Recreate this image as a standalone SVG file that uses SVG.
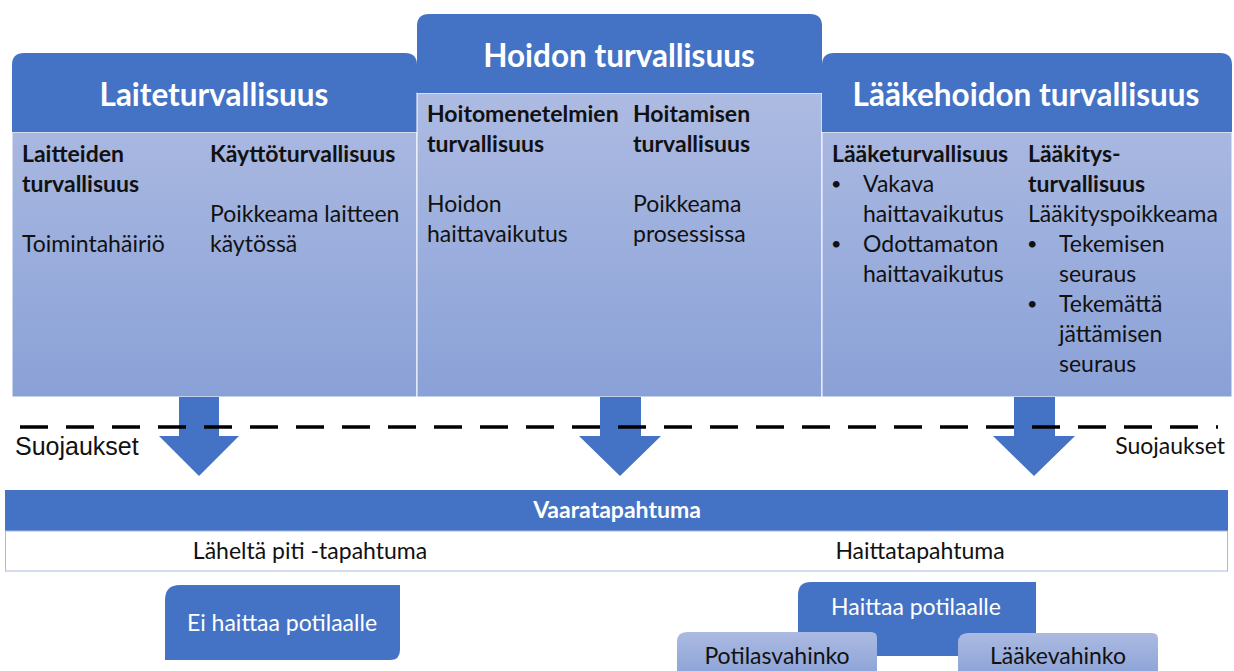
<svg xmlns="http://www.w3.org/2000/svg" width="1234" height="671" viewBox="0 0 1234 671">
<defs>
<linearGradient id="bodyGrad" gradientUnits="userSpaceOnUse" x1="0" y1="93" x2="0" y2="397">
<stop offset="0" stop-color="#ADBBE2"/>
<stop offset="1" stop-color="#8AA1D7"/>
</linearGradient>
<linearGradient id="smallGrad" x1="0" y1="0" x2="0" y2="1">
<stop offset="0" stop-color="#ABBAE1"/>
<stop offset="1" stop-color="#8FA5D8"/>
</linearGradient>
<style>
.hdr{fill:#4472C4}
.body{fill:url(#bodyGrad);stroke:#ffffff;stroke-width:1}
.arrow{fill:#4472C4}
.t{font-family:Lato,"Open Sans","Liberation Sans",sans-serif;fill:#111111;font-size:23px}
.b{font-weight:bold}
.bl{font-family:Lato,"Open Sans","Liberation Sans",sans-serif;fill:#111111;font-size:18px}
.h{font-family:Lato,"Open Sans","Liberation Sans",sans-serif;fill:#ffffff;font-weight:bold;font-size:31.5px;text-anchor:middle}
.w{font-family:Lato,"Open Sans","Liberation Sans",sans-serif;fill:#ffffff;font-size:23px;text-anchor:middle}
.c{text-anchor:middle}
.s{font-family:"Liberation Sans",Arial,sans-serif;fill:#111111;font-size:25px}
</style>
</defs>
<rect width="1234" height="671" fill="#ffffff"/>

<g id="laiteturvallisuus">
<rect class="body" x="12" y="132" width="405" height="265"/>
<path class="hdr" d="M12,132 V65 Q12,53 24,53 H405 Q417,53 417,65 V132 Z"/>
<text class="h" x="214" y="106">Laiteturvallisuus</text>
<text class="t b" x="22" y="162">Laitteiden</text>
<text class="t b" x="22" y="192">turvallisuus</text>
<text class="t" x="22" y="252">Toimintahäiriö</text>
<text class="t b" x="210" y="162">Käyttöturvallisuus</text>
<text class="t" x="210" y="222">Poikkeama laitteen</text>
<text class="t" x="210" y="252">käytössä</text>
</g>

<g id="hoidon-turvallisuus">
<rect class="body" x="417" y="93" width="405" height="304"/>
<path class="hdr" d="M417,93 V26 Q417,14 429,14 H810 Q822,14 822,26 V93 Z"/>
<text class="h" x="619" y="67">Hoidon turvallisuus</text>
<text class="t b" x="427" y="122">Hoitomenetelmien</text>
<text class="t b" x="427" y="152">turvallisuus</text>
<text class="t" x="427" y="212">Hoidon</text>
<text class="t" x="427" y="242">haittavaikutus</text>
<text class="t b" x="633" y="122">Hoitamisen</text>
<text class="t b" x="633" y="152">turvallisuus</text>
<text class="t" x="633" y="212">Poikkeama</text>
<text class="t" x="633" y="242">prosessissa</text>
</g>

<g id="laakehoidon-turvallisuus">
<rect class="body" x="822" y="132" width="410" height="265"/>
<path class="hdr" d="M822,132 V65 Q822,53 834,53 H1220 Q1232,53 1232,65 V132 Z"/>
<text class="h" x="1026" y="106">Lääkehoidon turvallisuus</text>
<text class="t b" x="832" y="162">Lääketurvallisuus</text>
<text class="bl" x="831" y="190">•</text>
<text class="t" x="863" y="192">Vakava</text>
<text class="t" x="863" y="222">haittavaikutus</text>
<text class="bl" x="831" y="250">•</text>
<text class="t" x="863" y="252">Odottamaton</text>
<text class="t" x="863" y="282">haittavaikutus</text>
<text class="t b" x="1028" y="162">Lääkitys-</text>
<text class="t b" x="1028" y="192">turvallisuus</text>
<text class="t" x="1028" y="222">Lääkityspoikkeama</text>
<text class="bl" x="1027" y="250">•</text>
<text class="t" x="1059" y="252">Tekemisen</text>
<text class="t" x="1059" y="282">seuraus</text>
<text class="bl" x="1027" y="310">•</text>
<text class="t" x="1059" y="312">Tekemättä</text>
<text class="t" x="1059" y="342">jättämisen</text>
<text class="t" x="1059" y="372">seuraus</text>
</g>

<g id="connectors">
<path class="arrow" d="M179,397 H219 V436 H239 L199,476 L159,436 H179 Z"/>
<path class="arrow" d="M600,397 H641 V436 H661 L620,476 L579,436 H600 Z"/>
<path class="arrow" d="M1014,397 H1055 V436 H1075 L1034,476 L993,436 H1014 Z"/>
<line x1="20" y1="427" x2="1218" y2="427" stroke="#000000" stroke-width="3.5" stroke-dasharray="28 18"/>
</g>

<g id="suojaukset">
<text class="s" x="15" y="455">Suojaukset</text>
<text class="t" x="1225" y="454" text-anchor="end">Suojaukset</text>
</g>

<g id="vaaratapahtuma">
<rect x="5" y="490" width="1223" height="41" fill="#4472C4"/>
<rect x="5.5" y="531" width="1222" height="40" fill="#ffffff" stroke="#A9B8E0" stroke-width="1"/>
<text class="w b" x="617" y="518" font-size="21.5">Vaaratapahtuma</text>
<text class="t c" x="310" y="559">Läheltä piti -tapahtuma</text>
<text class="t c" x="920" y="559">Haittatapahtuma</text>
</g>

<g id="ei-haittaa">
<path d="M165,660 V600 Q165,585 180,585 H400 V650 Q400,660 390,660 Z" fill="#4472C4"/>
<text class="w" x="282" y="631">Ei haittaa potilaalle</text>
</g>

<g id="haittaa-potilaalle">
<path d="M798,656 V595 Q798,582 811,582 H1036 V656 Z" fill="#4472C4"/>
<text class="w" x="916" y="615">Haittaa potilaalle</text>
</g>

<g id="potilasvahinko">
<path d="M677,672 V642 Q677,632 687,632 H871 Q877,632 877,638 V672 Z" fill="url(#smallGrad)"/>
<text class="t c" x="777" y="664">Potilasvahinko</text>
</g>

<g id="laakevahinko">
<path d="M958,672 V643 Q958,633 968,633 H1152 Q1158,633 1158,639 V672 Z" fill="url(#smallGrad)"/>
<text class="t c" x="1058" y="664">Lääkevahinko</text>
</g>
</svg>
